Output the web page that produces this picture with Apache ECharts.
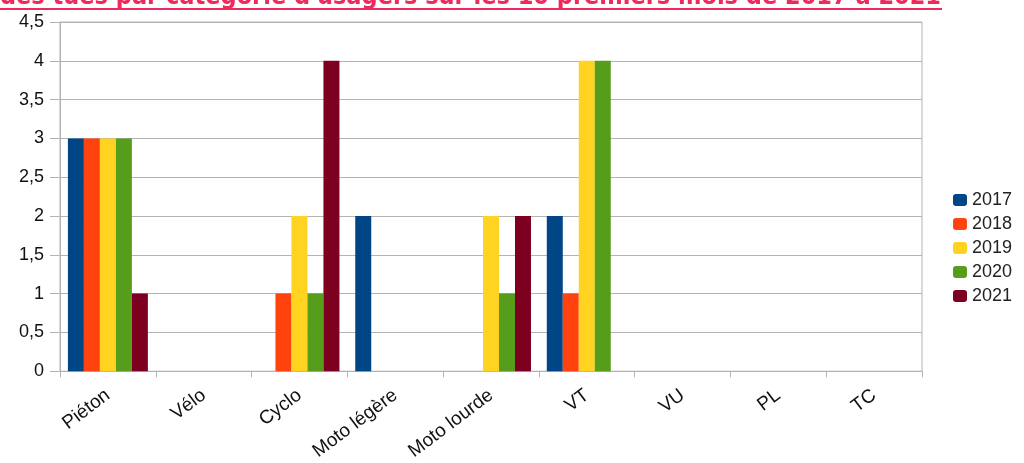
<!DOCTYPE html>
<html><head><meta charset="utf-8">
<script src="https://cdn.jsdelivr.net/npm/echarts@6/dist/echarts.min.js"></script>
<style>html,body{margin:0;padding:0;background:#fff}#c{width:1024px;height:463px}</style>
</head><body><div id="c"></div>
<script>
const titleText = "des tués par catégorie d'usagers sur les 10 premiers mois de 2017 à 2021";
const categories = ["Piéton","Vélo","Cyclo","Moto légère","Moto lourde","VT","VU","PL","TC"];
const years = ["2017","2018","2019","2020","2021"];
const s2017 = [3,0,0,2,0,2,0,0,0];
const s2018 = [3,0,1,0,0,1,0,0,0];
const s2019 = [3,0,2,0,2,4,0,0,0];
const s2020 = [3,0,1,0,1,4,0,0,0];
const s2021 = [1,0,4,0,2,0,0,0,0];
const seriesData = [s2017,s2018,s2019,s2020,s2021];
const colors = ["#004586","#ff420e","#ffd320","#579d1c","#7e0021"];
const font = "'Liberation Sans', Arial, sans-serif";
const chart = echarts.init(document.getElementById('c'));
chart.setOption({
  animation:false,
  color: colors,
  textStyle:{fontFamily:font},
  graphic:[
    {type:'text', left:0, top:-15, style:{text:titleText, fill:'#ee2a5c', font:"bold 25px 'Liberation Sans Narrow','DejaVu Sans Condensed',sans-serif"}},
    {type:'rect', shape:{x:0,y:8,width:942,height:2}, style:{fill:'#ee2a5c'}}
  ],
  grid:{left:60,right:102,top:22,bottom:91,show:true,borderColor:'#b3b3b3',borderWidth:1},
  legend:{
    orient:'vertical', left:948, top:186, itemGap:6, itemWidth:14, itemHeight:12, icon:'roundRect',
    data:years, textStyle:{fontSize:18,color:'#222',fontFamily:font}
  },
  xAxis:{
    type:'category', data:categories,
    axisLine:{lineStyle:{color:'#b3b3b3'}},
    axisTick:{show:true,length:6,lineStyle:{color:'#b3b3b3'}},
    axisLabel:{rotate:37,fontSize:19,color:'#111',margin:22,interval:0,fontFamily:font}
  },
  yAxis:{
    type:'value', min:0, max:4.5, interval:0.5,
    axisLine:{show:true,lineStyle:{color:'#b3b3b3'}},
    axisTick:{show:true,length:10,lineStyle:{color:'#b3b3b3'}},
    splitLine:{lineStyle:{color:'#b3b3b3'}},
    axisLabel:{fontSize:18,color:'#111',margin:16,fontFamily:font,formatter:v=>String(v).replace('.',',')}
  },
  series: years.map((y,i)=>({
    name:y, type:'bar', data:seriesData[i], barGap:'0%', barCategoryGap:'16.5%'
  }))
});
</script></body></html>
